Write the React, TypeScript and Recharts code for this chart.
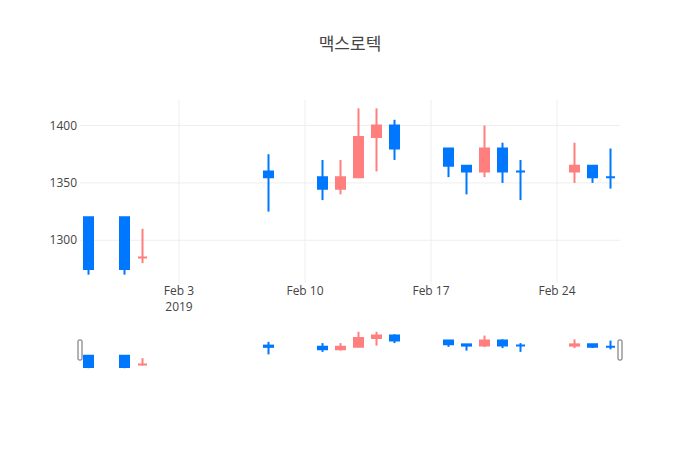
import { ComposedChart, Bar, XAxis, YAxis, CartesianGrid, ReferenceLine } from 'recharts';

const title = '맥스로텍';
const dates = [
  '2019-01-29', '2019-01-31', '2019-02-01', '2019-02-08', '2019-02-11', '2019-02-12',
  '2019-02-13', '2019-02-14', '2019-02-15', '2019-02-18', '2019-02-19', '2019-02-20',
  '2019-02-21', '2019-02-22', '2019-02-25', '2019-02-26', '2019-02-27',
];
const opens = [1320, 1320, 1285, 1360, 1355, 1345, 1355, 1390, 1400, 1380, 1365, 1360, 1380, 1360, 1360, 1365, 1355];
const highs = [1320, 1320, 1310, 1375, 1370, 1370, 1415, 1415, 1405, 1380, 1365, 1400, 1385, 1370, 1385, 1365, 1380];
const lows = [1270, 1270, 1280, 1325, 1335, 1340, 1355, 1360, 1370, 1355, 1340, 1355, 1350, 1335, 1350, 1350, 1345];
const closes = [1275, 1275, 1285, 1355, 1345, 1355, 1390, 1400, 1380, 1365, 1360, 1380, 1360, 1360, 1365, 1355, 1355];
const yTicks = [1300, 1350, 1400];
const xTickDates = ['2019-02-03', '2019-02-10', '2019-02-17', '2019-02-24'];
const monthNames = ['Jan', 'Feb', 'Mar', 'Apr', 'May', 'Jun', 'Jul', 'Aug', 'Sep', 'Oct', 'Nov', 'Dec'];

const UP = '#ff7f7f';
const DOWN = '#0077ff';
const FONT = "'Open Sans', 'Noto Sans CJK KR', sans-serif";

const toDay = (s: string) => Date.parse(s + 'T00:00:00Z') / 86400000;

// plotly-style direction: flat candles follow the previous close / previous direction
let prevUp = true;
const candles = dates.map((d, i) => {
  const o = opens[i];
  const c = closes[i];
  let up: boolean;
  if (c > o) up = true;
  else if (c < o) up = false;
  else if (i > 0 && c !== closes[i - 1]) up = c > closes[i - 1];
  else up = prevUp;
  prevUp = up;
  return { t: toDay(d), open: o, high: highs[i], low: lows[i], close: c, up };
});

const xDomain = [candles[0].t - 0.5, candles[candles.length - 1].t + 0.5];
const yDomain = [1262.75, 1422.25];
const xTicks = xTickDates.map(toDay);

const fmtDay = (v: number) => {
  const d = new Date(v * 86400000);
  return `${monthNames[d.getUTCMonth()]} ${d.getUTCDate()}`;
};

function Candle(props: any) {
  const { x, y, width, height, payload } = props;
  const top = Math.min(y, y + height);
  const h = Math.abs(height);
  const { open, close, high, low, up } = payload;
  const toPx = (v: number) => top + ((high - v) / (high - low)) * h;
  const cx = x + width / 2;
  const color = up ? UP : DOWN;
  const bodyTop = toPx(Math.max(open, close));
  const bodyBot = toPx(Math.min(open, close));
  const body = `M${cx - 4.5},${bodyTop}H${cx + 4.5}V${bodyBot}H${cx - 4.5}Z`;
  return (
    <g>
      <line x1={cx} x2={cx} y1={top} y2={top + h} stroke={color} strokeWidth={2} />
      <path d={body} fill={color} stroke={color} strokeWidth={2} />
    </g>
  );
}

function XTick(props: any) {
  const { x, y, payload, index } = props;
  return (
    <text x={x} y={y} textAnchor="middle" fill="#444" fontSize={12} fontFamily={FONT}>
      <tspan x={x} dy={12}>{fmtDay(payload.value)}</tspan>
      {index === 0 && <tspan x={x} dy={16}>2019</tspan>}
    </text>
  );
}

function YTick(props: any) {
  const { x, y, payload } = props;
  return (
    <text x={x} y={y} dy="0.35em" textAnchor="end" fill="#444" fontSize={12} fontFamily={FONT}>
      {payload.value}
    </text>
  );
}

function Grabber(props: any) {
  const { x1, y1, y2 } = props;
  const top = Math.min(y1, y2);
  const h = Math.abs(y2 - y1);
  return <rect x={x1 - 2} y={top + h / 4} width={4} height={h / 2} rx={1} fill="#fff" stroke="#666" strokeWidth={1} />;
}

export default function App() {
  return (
    <div style={{ position: 'relative', width: 700, height: 450, background: '#fff', fontFamily: FONT }}>
      <style>{'body{margin:0}'}</style>
      <svg width={700} height={80} style={{ position: 'absolute', left: 0, top: 0 }}>
        <text x={350} y={50} textAnchor="middle" fontSize={17} fill="#444" fontFamily={FONT}>{title}</text>
      </svg>

      <div style={{ position: 'absolute', left: 0, top: 0 }}>
        <ComposedChart width={700} height={330} data={candles} margin={{ top: 100, right: 80, bottom: 17, left: 20 }}>
          <CartesianGrid stroke="#eee" strokeWidth={1} syncWithTicks />
          <XAxis
            dataKey="t"
            type="number"
            domain={xDomain}
            allowDataOverflow
            ticks={xTicks}
            axisLine={false}
            tickLine={false}
            tickSize={0}
            tickMargin={0}
            height={30}
            interval={0}
            tick={<XTick />}
          />
          <YAxis
            type="number"
            domain={yDomain}
            allowDataOverflow
            ticks={yTicks}
            axisLine={false}
            tickLine={false}
            tickSize={0}
            tickMargin={3}
            width={60}
            tick={<YTick />}
          />
          <Bar dataKey={(d: any) => [d.low, d.high]} barSize={11} shape={<Candle />} isAnimationActive={false} />
        </ComposedChart>
      </div>

      <div style={{ position: 'absolute', left: 0, top: 0 }}>
        <ComposedChart width={700} height={450} data={candles} margin={{ top: 330, right: 80, bottom: 80, left: 80 }}>
          <XAxis dataKey="t" type="number" domain={xDomain} allowDataOverflow hide />
          <YAxis type="number" domain={yDomain} allowDataOverflow hide />
          <Bar dataKey={(d: any) => [d.low, d.high]} barSize={11} shape={<Candle />} isAnimationActive={false} />
          <ReferenceLine x={xDomain[0]} ifOverflow="visible" shape={<Grabber />} />
          <ReferenceLine x={xDomain[1]} ifOverflow="visible" shape={<Grabber />} />
        </ComposedChart>
      </div>
    </div>
  );
}
